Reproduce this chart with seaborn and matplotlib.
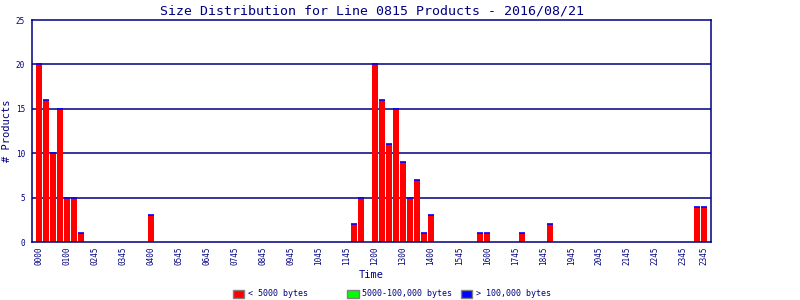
import matplotlib
matplotlib.use("Agg")
import matplotlib.pyplot as plt
import seaborn as sns
import numpy as np
import pandas as pd
from matplotlib.patches import Patch

# 96 quarter-hour slots
small_counts = [0] * 96
_vals = {0: 20, 1: 16, 2: 10, 3: 15, 4: 5, 5: 5, 6: 1,
         16: 3,
         45: 2, 46: 5, 48: 20, 49: 16, 50: 11, 51: 15, 52: 9, 53: 5, 54: 7, 55: 1, 56: 3,
         63: 1, 64: 1, 69: 1, 73: 2,
         94: 4, 95: 4}
for k, v in _vals.items():
    small_counts[k] = v
medium_counts = [0] * 96
large_counts = [0] * 96

tick_positions = list(range(0, 96, 4)) + [95]
tick_labels = ["0000", "0100", "0245", "0345", "0400", "0545", "0645", "0745",
               "0845", "0945", "1045", "1145", "1200", "1300", "1400", "1545",
               "1600", "1745", "1845", "1945", "2045", "2145", "2245", "2345", "2345"]

legend_labels = ["< 5000 bytes", "5000-100,000 bytes", "> 100,000 bytes"]
legend_colors = ["#ff0000", "#00ff00", "#0000ff"]

slots = [f"s{i:02d}" for i in range(96)]
df = pd.DataFrame({"slot": slots, "small": small_counts,
                   "medium": medium_counts, "large": large_counts})

navy = "#000080"
mono = "DejaVu Sans Mono"

sns.set_style("white")
plt.rcParams["font.family"] = [mono]

fig = plt.figure(figsize=(8, 3), dpi=100)
ax = fig.add_axes([0.04, 0.193, 0.849, 0.74])

sns.barplot(data=df, x="slot", y="small", color=legend_colors[0], saturation=1,
            width=0.86, linewidth=0, ax=ax, order=slots)
bottom2 = np.array(small_counts)
sns.barplot(data=df, x="slot", y="medium", color=legend_colors[1], saturation=1,
            width=0.86, linewidth=0, ax=ax, order=slots, bottom=bottom2)
bottom3 = bottom2 + np.array(medium_counts)
sns.barplot(data=df, x="slot", y="large", color=legend_colors[2], saturation=1,
            width=0.86, linewidth=1.2, edgecolor=legend_colors[2], ax=ax, order=slots,
            bottom=bottom3)
# hide the zero-size edges of empty slots
for p in ax.patches:
    if p.get_y() == 0 and p.get_height() == 0:
        p.set_linewidth(0)

ax.set_xlim(-1, 96)
ax.set_ylim(0, 25)
ax.set_yticks([0, 5, 10, 15, 20, 25])
ax.set_yticklabels(["0", "5", "10", "15", "20", "25"], fontsize=5.5, color=navy)
ax.set_xticks(tick_positions)
ax.set_xticklabels(tick_labels, rotation=90, fontsize=5.5, color=navy)
ax.tick_params(axis="x", length=0, pad=3)
ax.tick_params(axis="y", length=3, width=1, color=navy, pad=2, direction="out")
for y in [5, 10, 15, 20]:
    ax.axhline(y, color=navy, linewidth=1.1, zorder=0)
for s in ax.spines.values():
    s.set_color(navy)
    s.set_linewidth(1.1)

ax.set_xlabel("Time", fontsize=7.5, color=navy, labelpad=4)
ax.set_ylabel("# Products", fontsize=7.5, color=navy)
ax.yaxis.set_label_coords(-0.029, 0.5)
ax.set_title("Size Distribution for Line 0815 Products - 2016/08/21",
             fontsize=9.5, color=navy, pad=4)

for xpos, lab, col in zip([0.291, 0.434, 0.576], legend_labels, legend_colors):
    leg = fig.legend(handles=[Patch(facecolor=col, edgecolor="gray", label=lab)],
                     loc="center left", bbox_to_anchor=(xpos, 0.02),
                     frameon=False, fontsize=6, handlelength=1.4,
                     handleheight=1.1, handletextpad=0.4,
                     borderpad=0, borderaxespad=0)
    for t in leg.get_texts():
        t.set_color(navy)

fig.savefig("out.png", dpi=100, facecolor="white")
